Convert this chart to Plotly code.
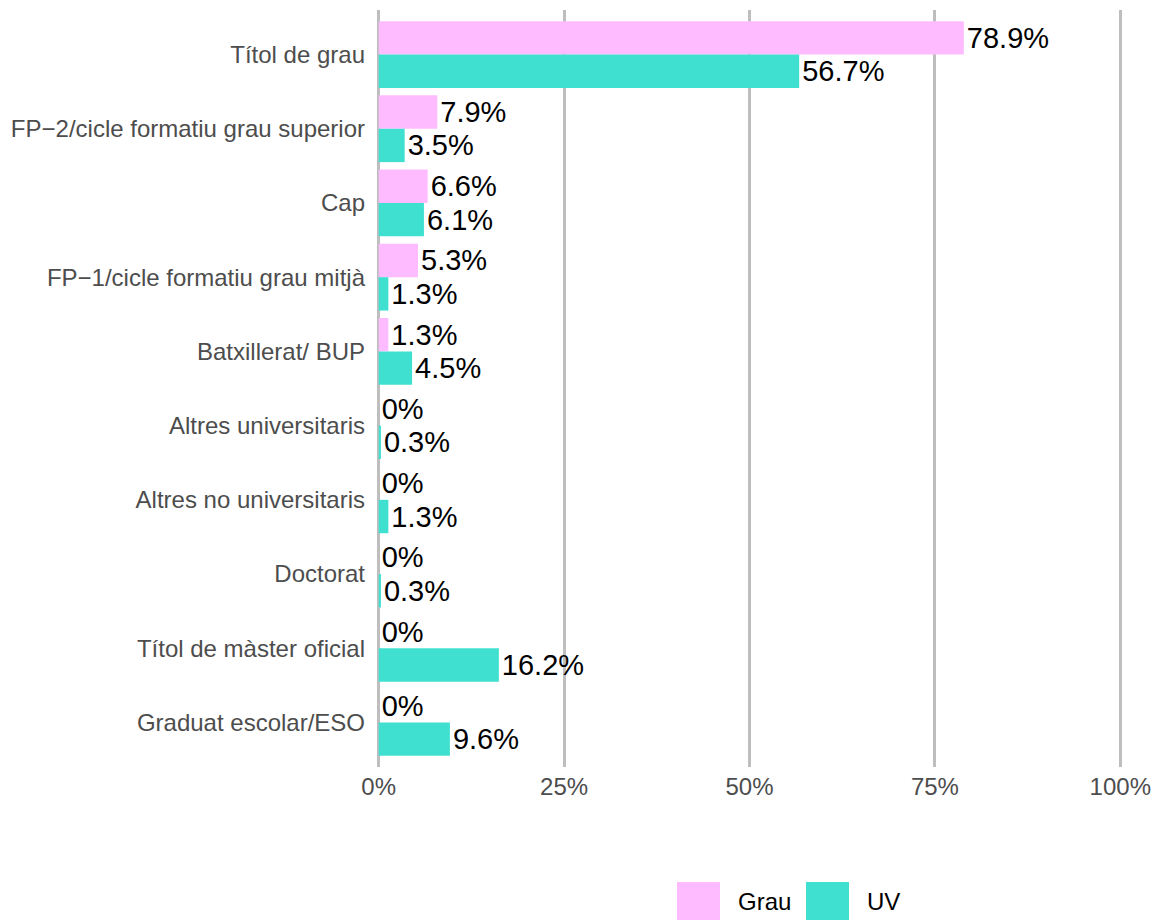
import plotly.graph_objects as go

categories = [
    "Títol de grau",
    "FP\u22122/cicle formatiu grau superior",
    "Cap",
    "FP\u22121/cicle formatiu grau mitjà",
    "Batxillerat/ BUP",
    "Altres universitaris",
    "Altres no universitaris",
    "Doctorat",
    "Títol de màster oficial",
    "Graduat escolar/ESO",
]
grau = [78.9, 7.9, 6.6, 5.3, 1.3, 0, 0, 0, 0, 0]
uv = [56.7, 3.5, 6.1, 1.3, 4.5, 0.3, 1.3, 0.3, 16.2, 9.6]
series_names = ["Grau", "UV"]
series_colors = ["#FFBBFF", "#40E0D0"]
x_ticks = [0, 25, 50, 75, 100]
x_tick_labels = ["0%", "25%", "50%", "75%", "100%"]

FONT = "Liberation Sans, Arial, sans-serif"
OFF = 8  # page body margin pushes the figure right/down
W, H = 1160 - OFF, 920 - OFF
L, R, T, B = 367, 36, 2, 153

fig = go.Figure()
for name, vals, col in zip(series_names, [grau, uv], series_colors):
    fig.add_trace(go.Bar(
        y=categories, x=vals, name=name, orientation="h",
        marker=dict(color=col, line=dict(width=0)),
        text=[f"{v:g}%" for v in vals],
        textposition="outside", cliponaxis=False, constraintext="none",
        textfont=dict(family=FONT, size=29, color="black"),
        showlegend=False,
    ))

# legend drawn by hand so the keys are big squares like ggplot's
pw, ph = W - L - R, H - T - B
def px(x):
    return (x - OFF - L) / pw
def py(y):
    return (H - B - (y - OFF)) / ph

key_x = 677
for name, col in zip(series_names, series_colors):
    fig.add_shape(type="rect", xref="paper", yref="paper",
                  x0=px(key_x), x1=px(key_x + 43), y0=py(920), y1=py(882),
                  fillcolor=col, line=dict(width=0))
    fig.add_annotation(xref="paper", yref="paper", x=px(key_x + 59), y=py(902),
                       text=name, showarrow=False, xanchor="left", yanchor="middle",
                       font=dict(family=FONT, size=24, color="black"))
    key_x += 129

fig.update_layout(
    width=W, height=H,
    margin=dict(l=L, r=R, t=T, b=B),
    barmode="group", bargap=0.1, bargroupgap=0,
    plot_bgcolor="white", paper_bgcolor="white",
    font=dict(family=FONT),
    xaxis=dict(range=[-0.5, 100.5], tickvals=x_ticks, ticktext=x_tick_labels,
               showgrid=True, gridcolor="#BEBEBE", gridwidth=2.5,
               zeroline=False, showline=False, ticks="",
               tickfont=dict(size=24, color="#4D4D4D"), ticklabelstandoff=3),
    yaxis=dict(categoryorder="array", categoryarray=categories,
               range=[len(categories) - 0.4, -0.6],
               showgrid=False, zeroline=False, showline=False, ticks="",
               tickfont=dict(size=24, color="#4D4D4D"), ticklabelstandoff=9),
)

fig.write_html("out.html")
